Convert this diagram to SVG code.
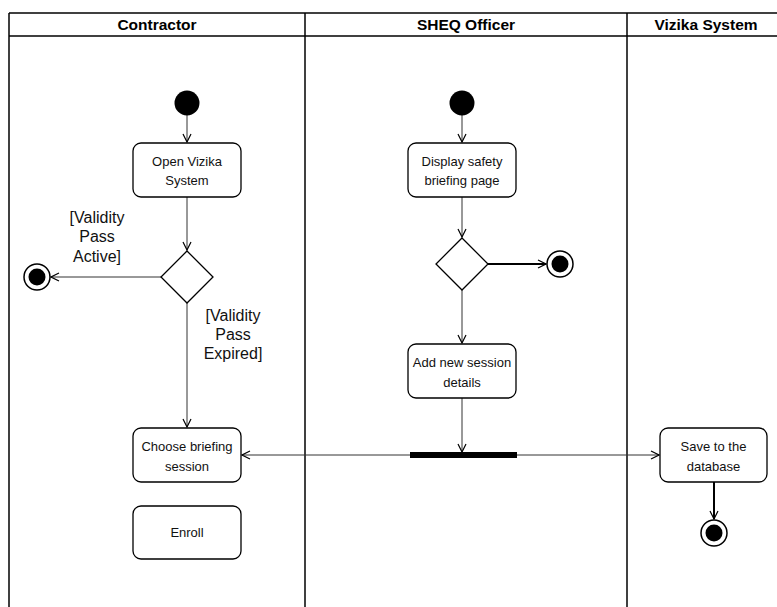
<svg xmlns="http://www.w3.org/2000/svg" width="777" height="607" viewBox="0 0 777 607">
  <style>
    .lane { stroke: #000; stroke-width: 1.5; fill: none; }
    .hdr { font-family: "Liberation Sans", Arial, sans-serif; font-size: 15.5px; font-weight: bold; text-anchor: middle; fill: #000; }
    .act { fill: #fff; stroke: #000; stroke-width: 1.3; }
    .lbl { font-family: "Liberation Sans", Arial, sans-serif; font-size: 13px; text-anchor: middle; fill: #111; }
    .guard { font-family: "Liberation Sans", Arial, sans-serif; font-size: 16px; text-anchor: middle; fill: #111; }
    .flow { stroke: #333; stroke-width: 1; fill: none; marker-end: url(#open); }
    .flow-bold { stroke: #000; stroke-width: 2; fill: none; marker-end: url(#open); }
    .dec { fill: #fff; stroke: #000; stroke-width: 1.3; }
  </style>
  <defs>
    <marker id="open" viewBox="0 0 10 10" refX="9" refY="5" markerWidth="10" markerHeight="10" markerUnits="userSpaceOnUse" orient="auto">
      <path d="M1,1 L9,5 L1,9" fill="none" stroke="#000" stroke-width="1.2"/>
    </marker>
  </defs>

  <rect width="777" height="607" fill="#fff"/>

  <!-- swimlanes -->
  <g id="lanes">
    <line class="lane" x1="9" y1="13" x2="777" y2="13"/>
    <line class="lane" x1="9" y1="36" x2="777" y2="36"/>
    <line class="lane" x1="9" y1="13" x2="9" y2="607"/>
    <line class="lane" x1="305" y1="13" x2="305" y2="607"/>
    <line class="lane" x1="627" y1="13" x2="627" y2="607"/>
    <text class="hdr" x="157" y="29.5">Contractor</text>
    <text class="hdr" x="466" y="29.5">SHEQ Officer</text>
    <text class="hdr" x="706" y="29.5">Vizika System</text>
  </g>

  <!-- connectors -->
  <g id="connectors">
    <line class="flow" x1="187" y1="115" x2="187" y2="142"/>
    <line class="flow" x1="187" y1="197" x2="187" y2="250"/>
    <line class="flow" x1="161" y1="277" x2="51" y2="277"/>
    <line class="flow" x1="187" y1="303" x2="187" y2="427"/>
    <line class="flow" x1="462" y1="115" x2="462" y2="142"/>
    <line class="flow" x1="462" y1="197" x2="462" y2="237"/>
    <line class="flow-bold" x1="488" y1="264" x2="546" y2="264"/>
    <line class="flow" x1="462" y1="290" x2="462" y2="343"/>
    <line class="flow" x1="462" y1="398" x2="462" y2="452"/>
    <line class="flow" x1="410" y1="455" x2="242" y2="455"/>
    <line class="flow" x1="517" y1="455" x2="659" y2="455"/>
    <line class="flow-bold" x1="714" y1="482" x2="714" y2="519"/>
  </g>

  <!-- Contractor lane -->
  <g id="start-contractor"><circle cx="187" cy="103" r="12.5" fill="#000"/></g>
  <g id="open-vizika">
    <rect class="act" x="133" y="143" width="108" height="54" rx="8"/>
    <text class="lbl" x="187" y="166">Open Vizika</text>
    <text class="lbl" x="187" y="185">System</text>
  </g>
  <g id="decision-validity"><polygon class="dec" points="187,251 213,277 187,303 161,277"/></g>
  <g id="end-contractor">
    <circle cx="37" cy="277" r="13" fill="#fff" stroke="#000" stroke-width="1.5"/>
    <circle cx="37" cy="277" r="8.5" fill="#000"/>
  </g>
  <g id="guard-active">
    <text class="guard" x="97" y="223">[Validity</text>
    <text class="guard" x="97" y="242">Pass</text>
    <text class="guard" x="97" y="262">Active]</text>
  </g>
  <g id="guard-expired">
    <text class="guard" x="233" y="321">[Validity</text>
    <text class="guard" x="233" y="340">Pass</text>
    <text class="guard" x="233" y="359">Expired]</text>
  </g>
  <g id="choose-session">
    <rect class="act" x="133" y="428" width="108" height="54" rx="8"/>
    <text class="lbl" x="187" y="451">Choose briefing</text>
    <text class="lbl" x="187" y="471">session</text>
  </g>
  <g id="enroll">
    <rect class="act" x="133" y="506" width="108" height="53" rx="8"/>
    <text class="lbl" x="187" y="537">Enroll</text>
  </g>

  <!-- SHEQ Officer lane -->
  <g id="start-sheq"><circle cx="462" cy="103" r="12.5" fill="#000"/></g>
  <g id="display-page">
    <rect class="act" x="408" y="143" width="108" height="54" rx="8"/>
    <text class="lbl" x="462" y="166">Display safety</text>
    <text class="lbl" x="462" y="185">briefing page</text>
  </g>
  <g id="decision-sheq"><polygon class="dec" points="462,238 488,264 462,290 436,264"/></g>
  <g id="end-sheq">
    <circle cx="560" cy="264" r="13" fill="#fff" stroke="#000" stroke-width="1.5"/>
    <circle cx="560" cy="264" r="8.5" fill="#000"/>
  </g>
  <g id="add-session">
    <rect class="act" x="408" y="344" width="108" height="54" rx="8"/>
    <text class="lbl" x="462" y="367">Add new session</text>
    <text class="lbl" x="462" y="387">details</text>
  </g>
  <g id="fork"><rect x="410" y="452" width="107" height="6" fill="#000"/></g>

  <!-- Vizika System lane -->
  <g id="save-db">
    <rect class="act" x="660" y="428" width="107" height="54" rx="8"/>
    <text class="lbl" x="713.5" y="451">Save to the</text>
    <text class="lbl" x="713.5" y="471">database</text>
  </g>
  <g id="end-vizika">
    <circle cx="714" cy="533" r="13" fill="#fff" stroke="#000" stroke-width="1.5"/>
    <circle cx="714" cy="533" r="8.5" fill="#000"/>
  </g>
</svg>
